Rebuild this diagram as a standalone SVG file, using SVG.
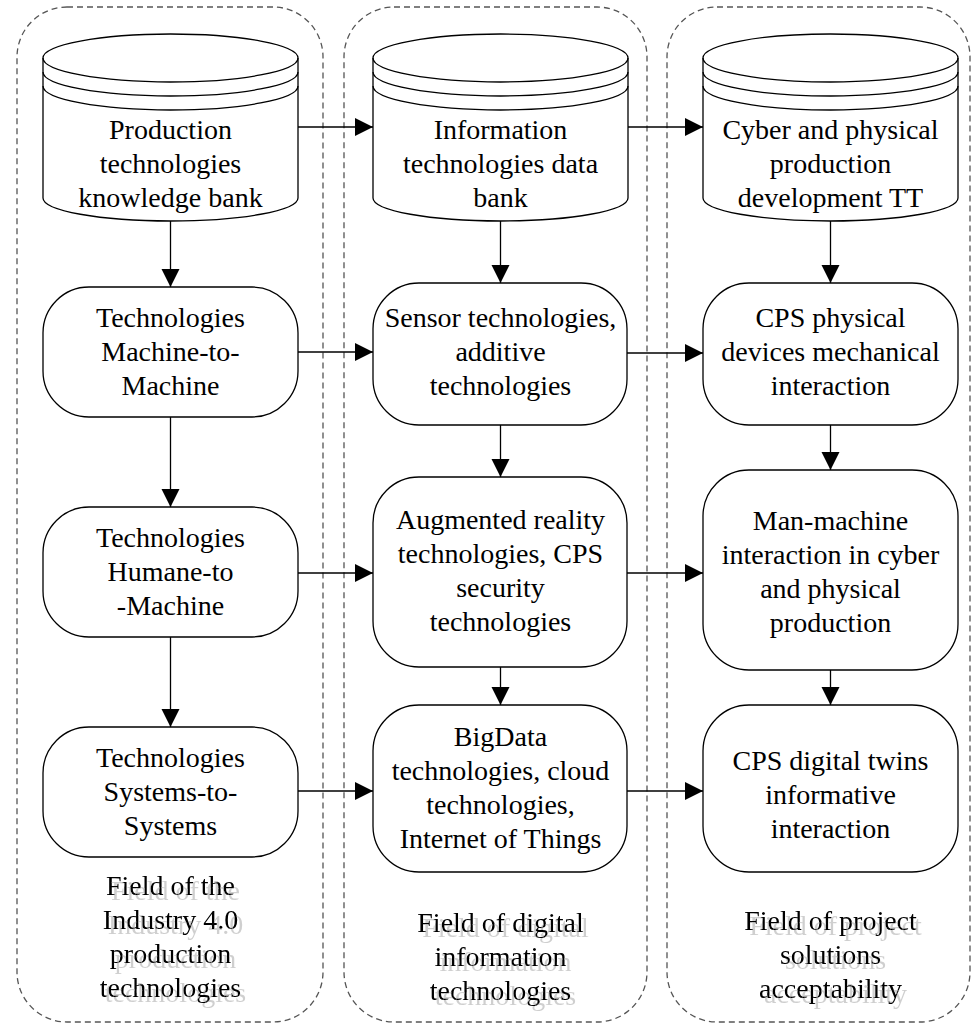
<svg xmlns="http://www.w3.org/2000/svg" width="972" height="1027" viewBox="0 0 972 1027">
<style>
.bg{fill:#ffffff}
.field{fill:none;stroke:#555555;stroke-width:1.3;stroke-dasharray:6,4}
.node{fill:#ffffff;stroke:#000000;stroke-width:1.3}
.line{fill:none;stroke:#000000;stroke-width:1.3}
.t{font-family:"Liberation Serif","Times New Roman",serif;font-size:28px;fill:#000000;text-anchor:middle}
.lbl{filter:url(#shadow)}
.conn{fill:none;stroke:#000000;stroke-width:1.3;marker-end:url(#arr)}
</style>
<defs>
<marker id="arr" markerUnits="userSpaceOnUse" markerWidth="19" markerHeight="19" refX="18" refY="9" orient="auto">
<path d="M0,0 L18,9 L0,18 Z" fill="#000000"/>
</marker>
<filter id="shadow" x="-10%" y="-10%" width="130%" height="130%">
<feOffset in="SourceAlpha" dx="5" dy="5" result="off"/>
<feFlood flood-color="#cfcfcf" result="fl"/>
<feComposite in="fl" in2="off" operator="in" result="sh"/>
<feMerge><feMergeNode in="sh"/><feMergeNode in="SourceGraphic"/></feMerge>
</filter>
</defs>
<rect class="bg" x="0" y="0" width="972" height="1027"/>

<g id="field-production">
<rect class="field" x="17" y="7" width="306" height="1015" rx="50" ry="50"/>
<g class="lbl">
<text class="t" x="170.5" y="895">Field of the</text>
<text class="t" x="170.5" y="929">Industry 4.0</text>
<text class="t" x="170.5" y="963">production</text>
<text class="t" x="170.5" y="997">technologies</text>
</g>
</g>

<g id="field-digital">
<rect class="field" x="344" y="7" width="303" height="1015" rx="50" ry="50"/>
<g class="lbl">
<text class="t" x="500.5" y="932">Field of digital</text>
<text class="t" x="500.5" y="966">information</text>
<text class="t" x="500.5" y="1000">technologies</text>
</g>
</g>

<g id="field-project">
<rect class="field" x="667" y="7" width="303" height="1015" rx="50" ry="50"/>
<g class="lbl">
<text class="t" x="830.5" y="930">Field of project</text>
<text class="t" x="830.5" y="964">solutions</text>
<text class="t" x="830.5" y="998">acceptability</text>
</g>
</g>

<g id="connectors">
<line class="conn" x1="170.5" y1="221" x2="170.5" y2="287"/>
<line class="conn" x1="170.5" y1="417" x2="170.5" y2="507"/>
<line class="conn" x1="170.5" y1="637" x2="170.5" y2="727"/>
<line class="conn" x1="500.5" y1="221" x2="500.5" y2="283"/>
<line class="conn" x1="500.5" y1="425" x2="500.5" y2="477"/>
<line class="conn" x1="500.5" y1="667" x2="500.5" y2="705"/>
<line class="conn" x1="830.5" y1="221" x2="830.5" y2="283"/>
<line class="conn" x1="830.5" y1="425" x2="830.5" y2="470"/>
<line class="conn" x1="830.5" y1="670" x2="830.5" y2="705"/>
<line class="conn" x1="298" y1="127" x2="373" y2="127"/>
<line class="conn" x1="628" y1="127" x2="703" y2="127"/>
<line class="conn" x1="298" y1="352" x2="373" y2="352"/>
<line class="conn" x1="627" y1="353" x2="703" y2="353"/>
<line class="conn" x1="298" y1="573" x2="373" y2="573"/>
<line class="conn" x1="627" y1="573" x2="703" y2="573"/>
<line class="conn" x1="298" y1="791" x2="373" y2="791"/>
<line class="conn" x1="627" y1="791" x2="703" y2="791"/>
</g>

<g id="cyl-production">
<path class="node" d="M43,58 A127.5,24 0 0 1 298,58 L298,198 A127.5,23 0 0 1 43,198 Z"/>
<path class="line" d="M43,58 A127.5,24 0 0 0 298,58"/>
<path class="line" d="M43,72 A127.5,24 0 0 0 298,72"/>
<path class="line" d="M43,86 A127.5,24 0 0 0 298,86"/>
<text class="t" x="170.5" y="139">Production</text>
<text class="t" x="170.5" y="173">technologies</text>
<text class="t" x="170.5" y="207">knowledge bank</text>
</g>

<g id="cyl-information">
<path class="node" d="M373,58 A127.5,24 0 0 1 628,58 L628,198 A127.5,23 0 0 1 373,198 Z"/>
<path class="line" d="M373,58 A127.5,24 0 0 0 628,58"/>
<path class="line" d="M373,72 A127.5,24 0 0 0 628,72"/>
<path class="line" d="M373,86 A127.5,24 0 0 0 628,86"/>
<text class="t" x="500.5" y="139">Information</text>
<text class="t" x="500.5" y="173">technologies data</text>
<text class="t" x="500.5" y="207">bank</text>
</g>

<g id="cyl-cyber">
<path class="node" d="M703,58 A127.5,24 0 0 1 958,58 L958,198 A127.5,23 0 0 1 703,198 Z"/>
<path class="line" d="M703,58 A127.5,24 0 0 0 958,58"/>
<path class="line" d="M703,72 A127.5,24 0 0 0 958,72"/>
<path class="line" d="M703,86 A127.5,24 0 0 0 958,86"/>
<text class="t" x="830.5" y="139">Cyber and physical</text>
<text class="t" x="830.5" y="173">production</text>
<text class="t" x="830.5" y="207">development TT</text>
</g>

<g id="m2m">
<rect class="node" x="43" y="287" width="255" height="130" rx="46" ry="46"/>
<text class="t" x="170.5" y="327">Technologies</text>
<text class="t" x="170.5" y="361">Machine-to-</text>
<text class="t" x="170.5" y="395">Machine</text>
</g>

<g id="h2m">
<rect class="node" x="43" y="507" width="255" height="130" rx="46" ry="46"/>
<text class="t" x="170.5" y="547">Technologies</text>
<text class="t" x="170.5" y="581">Humane-to</text>
<text class="t" x="170.5" y="615">-Machine</text>
</g>

<g id="s2s">
<rect class="node" x="43" y="727" width="255" height="130" rx="46" ry="46"/>
<text class="t" x="170.5" y="767">Technologies</text>
<text class="t" x="170.5" y="801">Systems-to-</text>
<text class="t" x="170.5" y="835">Systems</text>
</g>

<g id="sensor">
<rect class="node" x="373" y="283" width="254" height="142" rx="46" ry="46"/>
<text class="t" x="500.5" y="327">Sensor technologies,</text>
<text class="t" x="500.5" y="361">additive</text>
<text class="t" x="500.5" y="395">technologies</text>
</g>

<g id="augmented">
<rect class="node" x="373" y="477" width="254" height="190" rx="46" ry="46"/>
<text class="t" x="500.5" y="529">Augmented reality</text>
<text class="t" x="500.5" y="563">technologies, CPS</text>
<text class="t" x="500.5" y="597">security</text>
<text class="t" x="500.5" y="631">technologies</text>
</g>

<g id="bigdata">
<rect class="node" x="373" y="705" width="254" height="167" rx="46" ry="46"/>
<text class="t" x="500.5" y="746">BigData</text>
<text class="t" x="500.5" y="780">technologies, cloud</text>
<text class="t" x="500.5" y="814">technologies,</text>
<text class="t" x="500.5" y="848">Internet of Things</text>
</g>

<g id="cps-physical">
<rect class="node" x="703" y="283" width="255" height="142" rx="46" ry="46"/>
<text class="t" x="830.5" y="327">CPS physical</text>
<text class="t" x="830.5" y="361">devices mechanical</text>
<text class="t" x="830.5" y="395">interaction</text>
</g>

<g id="man-machine">
<rect class="node" x="703" y="470" width="255" height="200" rx="46" ry="46"/>
<text class="t" x="830.5" y="530">Man-machine</text>
<text class="t" x="830.5" y="564">interaction in cyber</text>
<text class="t" x="830.5" y="598">and physical</text>
<text class="t" x="830.5" y="632">production</text>
</g>

<g id="digital-twins">
<rect class="node" x="703" y="705" width="255" height="167" rx="46" ry="46"/>
<text class="t" x="830.5" y="770">CPS digital twins</text>
<text class="t" x="830.5" y="804">informative</text>
<text class="t" x="830.5" y="838">interaction</text>
</g>
</svg>
